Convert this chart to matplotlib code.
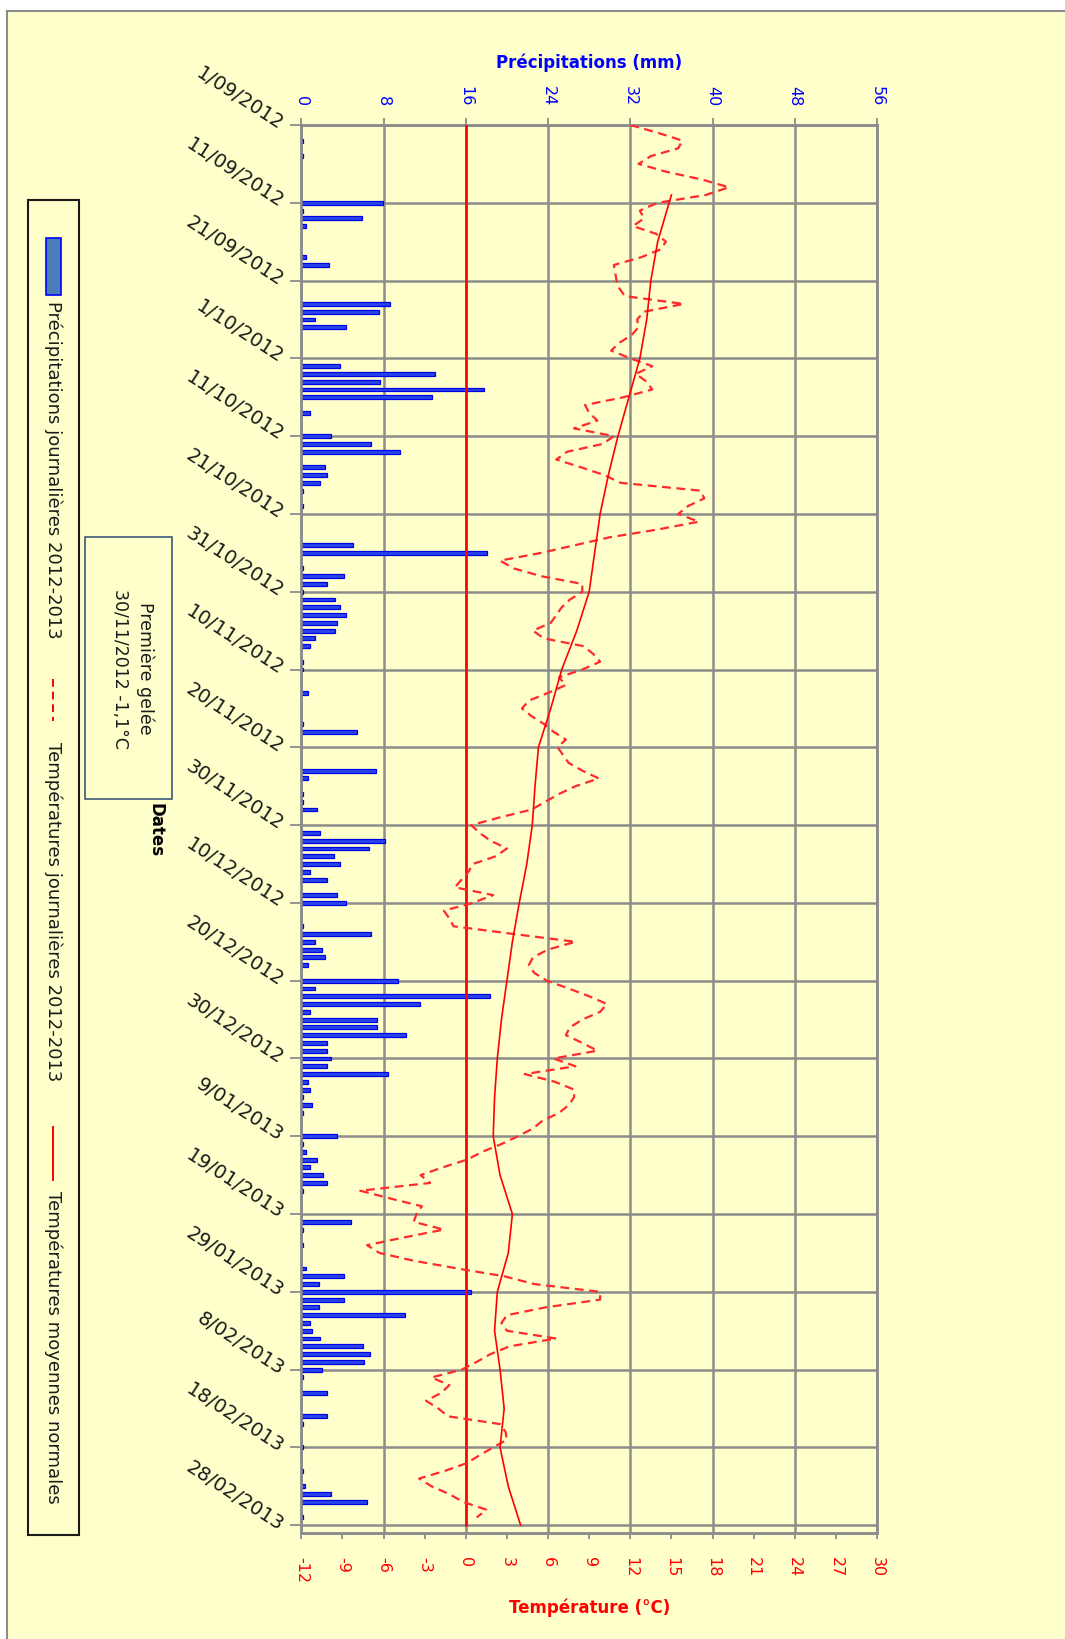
import numpy as np
import matplotlib
matplotlib.use('Agg')
import matplotlib.pyplot as plt
from matplotlib.patches import Rectangle
from matplotlib.lines import Line2D

# axe des dates : jours depuis le 1/09/2012
date_ticks = list(range(0, 181, 10))
date_labels = ['1/09/2012', '11/09/2012', '21/09/2012', '1/10/2012', '11/10/2012',
               '21/10/2012', '31/10/2012', '10/11/2012', '20/11/2012', '30/11/2012',
               '10/12/2012', '20/12/2012', '30/12/2012', '9/01/2013', '19/01/2013',
               '29/01/2013', '8/02/2013', '18/02/2013', '28/02/2013']

precip_ticks = [0, 8, 16, 24, 32, 40, 48, 56]
temp_ticks = list(range(-12, 31, 3))

# précipitations journalières (jour, mm)
precip_days = [2, 4, 10, 11, 12, 13, 17, 18, 23, 24, 25, 26, 31, 32, 33, 34, 35, 37,
               40, 41, 42, 44, 45, 46, 47, 49, 54, 55, 57, 58, 59, 60, 61, 62, 63, 64,
               65, 66, 67, 69, 70, 73, 77, 78, 83, 84, 86, 87, 88, 91, 92, 93, 94, 95,
               96, 97, 99, 100, 103, 104, 105, 106, 107, 108, 110, 111, 112, 113, 114,
               115, 116, 117, 118, 119, 120, 121, 122, 123, 124, 125, 126, 127, 130,
               131, 132, 133, 134, 135, 136, 137, 141, 142, 144, 147, 148, 149, 150,
               151, 152, 153, 154, 155, 156, 157, 158, 159, 160, 161, 163, 166, 167,
               170, 173, 175, 176, 177, 179]
precip_mm = [0.2, 0.2, 7.9, 0.2, 5.9, 0.5, 0.5, 2.7, 8.6, 7.6, 1.3, 4.3, 3.8, 13.0, 7.7,
             17.8, 12.7, 0.8, 2.85, 6.8, 9.6, 2.3, 2.5, 1.8, 0.2, 0.2, 5.0, 18.1, 0.2,
             4.15, 2.5, 0.2, 3.3, 3.8, 4.3, 3.5, 3.3, 1.3, 0.85, 0.2, 0.2, 0.7, 0.2,
             5.4, 7.3, 0.7, 0.2, 0.2, 1.5, 1.8, 8.1, 6.6, 3.2, 3.8, 0.85, 2.5, 3.5,
             4.3, 0.2, 6.8, 1.3, 2.0, 2.3, 0.7, 9.4, 1.3, 18.4, 11.5, 0.85, 7.4, 7.4,
             10.2, 2.5, 2.5, 2.85, 2.5, 8.4, 0.7, 0.85, 0.15, 1.0, 0.2, 3.5, 0.2, 0.5,
             1.5, 0.85, 2.1, 2.5, 0.2, 4.8, 0.2, 0.2, 0.5, 4.15, 1.7, 16.5, 4.15, 1.7,
             10.1, 0.85, 1.0, 1.8, 6.0, 6.7, 6.1, 2.0, 0.2, 2.5, 2.5, 0.2, 0.2, 0.2,
             0.35, 2.85, 6.4, 0.2]

# températures journalières 2012-2013 (°C), une valeur par jour depuis le 1/09
temp_daily = [12.0, 14.0, 15.8, 15.5, 13.5, 12.6, 14.6, 17.2, 19.2, 17.5,
              14.0, 12.7, 13.0, 12.2, 13.9, 14.6, 14.2, 12.8, 10.8, 10.9,
              11.0, 11.2, 11.6, 15.9, 13.0, 12.5, 12.6, 12.1, 11.2, 10.6,
              12.0, 13.6, 12.4, 13.2, 13.6, 11.5, 8.7, 9.0, 9.6, 7.9,
              10.8, 10.0, 7.4, 6.6, 8.4, 10.1, 11.3, 17.1, 17.4, 16.2,
              15.5, 17.0, 14.0, 10.5, 8.0, 5.5, 2.5, 3.5, 5.5, 8.5,
              8.5, 7.6, 7.0, 6.6, 6.2, 4.9, 5.7, 8.6, 9.3, 9.8,
              8.5, 6.8, 7.3, 6.0, 4.6, 4.1, 4.8, 5.7, 6.4, 7.3,
              6.7, 7.1, 7.5, 8.5, 9.7, 8.0, 6.8, 5.8, 4.8, 2.5,
              0.4, 1.0, 1.8, 3.0, 2.2, 0.5, 0.2, -0.3, -0.8, 2.0,
              0.5, -1.6, -1.2, -0.9, 3.5, 8.0, 6.0, 4.9, 4.6, 5.0,
              5.9, 7.5, 9.0, 10.3, 9.8, 8.5, 7.6, 7.3, 8.5, 9.6,
              6.4, 8.0, 4.3, 6.5, 7.9, 7.9, 7.5, 6.8, 5.6, 4.9,
              3.8, 2.6, 1.2, 0.1, -1.7, -3.3, -2.6, -7.7, -5.5, -3.2,
              -3.6, -3.8, -1.6, -4.5, -7.2, -6.3, -3.8, -0.6, 2.8, 5.0,
              9.8, 9.8, 5.8, 3.0, 2.6, 3.0, 6.6, 3.2, 1.8, 0.8,
              -0.3, -2.5, -1.2, -1.8, -2.9, -2.0, -1.3, 2.5, 2.9, 3.0,
              2.0, 1.0, 0.1, -1.5, -3.4, -2.5, -1.2, -0.2, 1.5, 0.8]

# températures moyennes normales
normal_days = [9, 12, 15, 20, 25, 30, 35, 40, 45, 50, 55, 60, 65, 70, 75, 80, 85, 90,
               95, 100, 105, 110, 115, 120, 125, 130, 135, 140, 145, 150, 155, 160,
               165, 170, 175, 180]
normal_temp = [15.0, 14.5, 14.0, 13.5, 13.2, 12.7, 11.9, 11.1, 10.4, 9.8, 9.4, 9.0,
               8.1, 7.0, 6.2, 5.3, 5.05, 4.85, 4.45, 3.9, 3.4, 3.0, 2.6, 2.3, 2.1,
               2.0, 2.5, 3.4, 3.1, 2.3, 2.1, 2.5, 2.8, 2.5, 3.1, 4.0]

# ligne du 0 °C
zero_days = [0, 180]
zero_temp = [0, 0]

W, H = 1065, 1640
fig = plt.figure(figsize=(W / 100, H / 100), dpi=100, facecolor='white')

# fond jaune + cadre
bg = fig.add_axes([0, 0, 1, 1], zorder=0)
bg.set_xlim(0, W)
bg.set_ylim(H, 0)
bg.axis('off')
bg.add_patch(Rectangle((7, 11.5), 1200, 1800, facecolor='#FFFFCC', edgecolor='#8C8C8C', lw=1.5))

# zone de tracé
left, right, top, bottom = 301.3, 877, 126, 1534
ax = fig.add_axes([left / W, 1 - bottom / H, (right - left) / W, (bottom - top) / H], zorder=2)
ax.patch.set_facecolor('none')
ax2 = ax.twiny()
ax2.patch.set_visible(False)
grid_c = '#8C8C8C'

# précipitations sur l'axe du haut
ax.barh(precip_days, precip_mm, height=0.5, color='#2A45E8', edgecolor='#0000E6', linewidth=0.9, zorder=3)
ax.set_xlim(0, 56)
ax.set_ylim(181, 0)
ax.xaxis.set_ticks_position('top')
ax.xaxis.set_label_position('top')
ax.set_xticks(precip_ticks)
ax.set_xticklabels([str(v) for v in precip_ticks], rotation=-90, color='#0000FF', fontsize=11.5)
ax.set_yticks(date_ticks)
ax.set_yticklabels(date_labels, rotation=-33, rotation_mode='anchor', ha='right', va='center',
                   fontsize=14, color='#1A1A1A')
ax.tick_params(axis='x', length=5, width=1.3, color=grid_c, pad=9)
ax.tick_params(axis='y', length=8, width=1.3, color=grid_c, pad=6)
ax.grid(True, color=grid_c, lw=1.8, zorder=0)
ax.set_axisbelow(True)
for s in ax.spines.values():
    s.set_color(grid_c)
    s.set_linewidth(1.8)

ax.set_xlabel('Précipitations (mm)', color='#0000FF', fontsize=12, fontweight='bold')
ax.xaxis.set_label_coords(0.5, (bottom - 63) / (bottom - top))
ax.xaxis.label.set_va('center')
ax.set_ylabel('Dates', fontsize=12, fontweight='bold', rotation=-90)
ax.yaxis.set_label_coords((155 - left) / (right - left), 0.5)
ax.yaxis.label.set_va('center')

# températures sur l'axe du bas
ax2.plot(zero_temp, zero_days, color='#FF0000', lw=1.8, zorder=4)
ax2.plot(temp_daily, np.arange(len(temp_daily)), color='#FF2A2A', lw=1.6,
         ls=(0, (4, 2.5)), zorder=5)
ax2.plot(normal_temp, normal_days, color='#FF0000', lw=1.2, zorder=5)
ax2.set_xlim(-12, 30)
ax2.xaxis.set_ticks_position('bottom')
ax2.xaxis.set_label_position('bottom')
ax2.set_xticks(temp_ticks)
ax2.set_xticklabels([str(v) for v in temp_ticks], rotation=-90, color='#FF0000', fontsize=11.5)
ax2.tick_params(axis='x', length=4.5, width=1.3, color=grid_c, pad=12)
for s in ax2.spines.values():
    s.set_color(grid_c)
    s.set_linewidth(1.8)
ax2.set_xlabel('Température (°C)', color='#FF0000', fontsize=12, fontweight='bold')
ax2.xaxis.set_label_coords(0.5, (bottom - 1608) / (bottom - top))
ax2.xaxis.label.set_va('center')

# légende
bg.add_patch(Rectangle((28.3, 200.7), 50.7, 1335, facecolor='none', edgecolor='#1A1A1A', lw=1.5))
bg.add_patch(Rectangle((46, 239), 14.5, 57, facecolor='#4A7EBB', edgecolor='#0000FF', lw=1.2))
bg.text(53, 301, 'Précipitations journalières 2012-2013', rotation=-90, rotation_mode='anchor',
        ha='left', va='center', fontsize=13, color='#1A1A1A')
bg.add_line(Line2D([53, 53], [680, 722], color='#FF0000', lw=1.4, ls=(0, (4, 2.5))))
bg.text(53, 742, 'Températures journalières 2012-2013', rotation=-90, rotation_mode='anchor',
        ha='left', va='center', fontsize=13, color='#1A1A1A')
bg.add_line(Line2D([53, 53], [1128, 1181], color='#FF0000', lw=1.4))
bg.text(53, 1191, 'Températures moyennes normales', rotation=-90, rotation_mode='anchor',
        ha='left', va='center', fontsize=13, color='#1A1A1A')

# annotation première gelée
bg.add_patch(Rectangle((85, 537.5), 86.7, 262, facecolor='none', edgecolor='#3B5A7A', lw=1.2))
bg.text(133, 668.5, 'Première gelée\n30/11/2012 -1,1°C', rotation=-90, ha='center', va='center',
        multialignment='center', fontsize=12.5, color='#1A1A1A', linespacing=1.5)

fig.savefig('out.png', dpi=100)
